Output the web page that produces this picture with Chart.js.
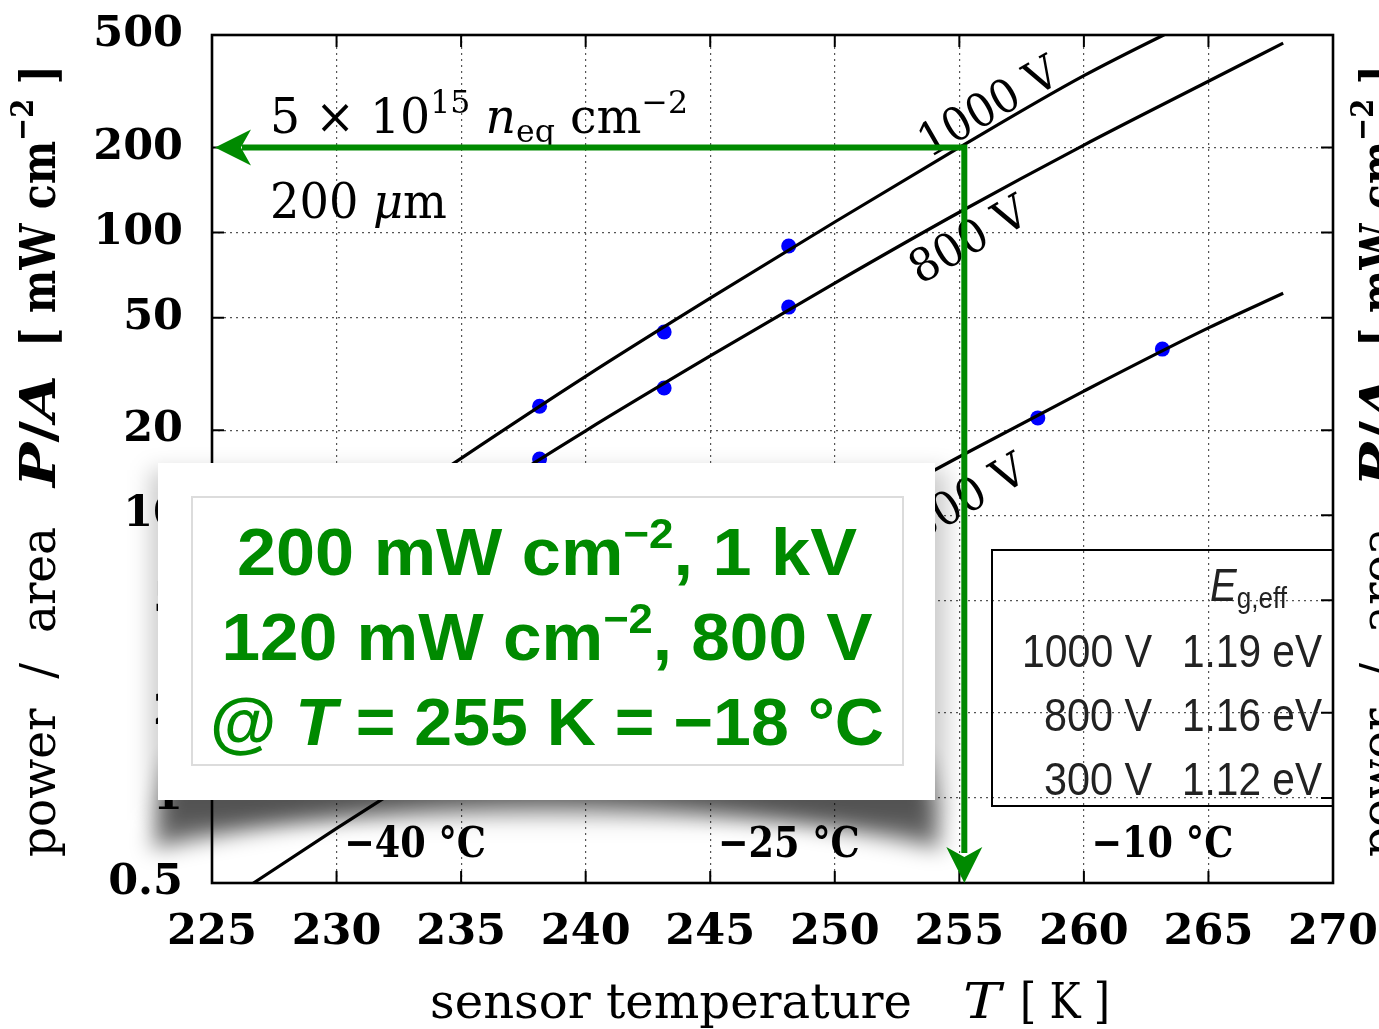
<!DOCTYPE html>
<html>
<head>
<meta charset="utf-8">
<script src="https://cdn.jsdelivr.net/npm/chart.js@4.4.1/dist/chart.umd.min.js"></script>
<style>
  body { margin: 0; background: #fff; }
  #wrap { width: 1379px; height: 1029px; }
</style>
</head>
<body>
<div id="wrap"><canvas id="c"></canvas></div>
<script>
// fitted curves (T in K, P/A in mW cm^-2)
var temps   = [225, 230, 235, 240, 245, 250, 255, 260, 265, 268];
var fit1000 = [3.9, 8.0, 15.9, 31.0, 58.6, 109, 200, 359, 600, 820];
var fit800  = [2.7, 5.4, 10.5, 19.9, 36.6, 66.3, 118, 204, 343, 468];
var fit300  = [0.40, 0.78, 1.49, 2.81, 5.14, 9.23, 16.1, 27.5, 46, 61];

// measured points
var measT    = [238.15, 243.15, 248.15];
var meas1000 = [24.3, 44.5, 89.6];
var meas800  = [15.8, 28.2, 54.5];
var measT300 = [258.15, 263.15];
var meas300  = [22.1, 38.7];

var xTicks = [225, 230, 235, 240, 245, 250, 255, 260, 265, 270];
var yTicks = [0.5, 1, 2, 5, 10, 20, 50, 100, 200, 500];
var celsius = [-40, -25, -10];

// operating point marked by the green arrows
var opT = 255.2;
var opP = 200;

var legendVolts = ['1000 V', '800 V', '300 V'];
var legendGap   = ['1.19 eV', '1.16 eV', '1.12 eV'];

var GREEN = '#008a00';
var SERIF = '"DejaVu Serif", serif';
var SANS = '"Liberation Sans", Arial, sans-serif';

function pts(xs, ys) {
  return xs.map(function (x, i) { return { x: x, y: ys[i] }; });
}

// draw a run of text pieces, optionally squeezed/stretched to a given width
function rich(ctx, parts, x, y, width, align) {
  var total = 0;
  parts.forEach(function (p) {
    ctx.font = p.f;
    p.w = ctx.measureText(p.t).width;
    total += p.w;
  });
  var sx = width ? width / total : 1;
  ctx.save();
  ctx.translate(x, y);
  ctx.scale(sx, 1);
  var cx = 0;
  if (align === 'center') cx = -total / 2;
  if (align === 'right') cx = -total;
  ctx.textAlign = 'left';
  ctx.textBaseline = 'alphabetic';
  parts.forEach(function (p) {
    ctx.font = p.f;
    ctx.fillText(p.t, cx, p.dy || 0);
    cx += p.w;
  });
  ctx.restore();
}

function yTitle(ctx, xb) {
  var n = '48px ' + SERIF, b = 'bold 48px ' + SERIF, bi = 'italic bold 48px ' + SERIF;
  var groups = [
    { y: 857, len: 330, parts: [{ t: 'power  /  area', f: n }] },
    { y: 487, len: 112, parts: [{ t: 'P', f: bi }, { t: '/', f: b }, { t: 'A', f: bi }] },
    { y: 347, len: 282, parts: [{ t: '[ mW cm', f: b }, { t: '\u22122', f: 'bold 32px ' + SERIF, dy: -22 }, { t: ' ]', f: b }] }
  ];
  groups.forEach(function (g) {
    ctx.save();
    ctx.translate(xb, g.y);
    ctx.rotate(-Math.PI / 2);
    rich(ctx, g.parts, 0, 0, g.len, 'left');
    ctx.restore();
  });
}

function arrowHead(ctx, tx, ty, dx, dy, len, half) {
  // dx,dy: unit direction the arrow points to
  var bx = tx - dx * len, by = ty - dy * len;
  var nx = -dy, ny = dx;
  ctx.beginPath();
  ctx.moveTo(tx, ty);
  ctx.lineTo(bx + nx * half, by + ny * half);
  ctx.lineTo(tx - dx * len * 0.72, ty - dy * len * 0.72);
  ctx.lineTo(bx - nx * half, by - ny * half);
  ctx.closePath();
  ctx.fill();
}

// keep the plot box where the reference has it
function noPad(s) {
  s.paddingTop = 0; s.paddingBottom = 0; s.paddingLeft = 0; s.paddingRight = 0;
}

var overlay = {
  id: 'overlay',
  afterDatasetsDraw: function (chart) {
    var ctx = chart.ctx, a = chart.chartArea;
    var xs = chart.scales.x, ys = chart.scales.y;
    ctx.save();

    // frame + inward ticks
    ctx.strokeStyle = '#000';
    ctx.lineWidth = 2.6;
    ctx.strokeRect(a.left, a.top, a.right - a.left, a.bottom - a.top);
    ctx.lineWidth = 2;
    ctx.beginPath();
    xTicks.forEach(function (v) {
      var px = xs.getPixelForValue(v);
      ctx.moveTo(px, a.bottom); ctx.lineTo(px, a.bottom - 12);
      ctx.moveTo(px, a.top); ctx.lineTo(px, a.top + 12);
    });
    yTicks.forEach(function (v) {
      var py = ys.getPixelForValue(v);
      ctx.moveTo(a.left, py); ctx.lineTo(a.left + 12, py);
      ctx.moveTo(a.right, py); ctx.lineTo(a.right - 12, py);
    });
    ctx.stroke();

    // celsius labels
    ctx.fillStyle = '#000';
    celsius.forEach(function (c) {
      var px = xs.getPixelForValue(c + 273.15);
      rich(ctx, [{ t: '\u2212' + Math.abs(c) + ' \u00b0C', f: 'bold 43px ' + SERIF }], px, 857, 142, 'center');
    });

    // fluence / thickness annotation
    var n = '48px ' + SERIF, it = 'italic 48px ' + SERIF, sm = '32px ' + SERIF;
    rich(ctx, [
      { t: '5 \u00d7 10', f: n }, { t: '15', f: sm, dy: -20 }, { t: ' ', f: n },
      { t: 'n', f: it }, { t: 'eq', f: sm, dy: 9 }, { t: ' cm', f: n }, { t: '\u22122', f: sm, dy: -20 }
    ], 270, 133, 418, 'left');
    rich(ctx, [{ t: '200 ', f: n }, { t: '\u03bc', f: it }, { t: 'm', f: n }], 270, 218, 177, 'left');

    // voltage labels along the curves
    [['1000 V', 988, 106, 154], ['800 V', 968, 239, 129], ['300 V', 966, 497, 129]].forEach(function (l) {
      ctx.save();
      ctx.translate(l[1], l[2]);
      ctx.rotate(-30 * Math.PI / 180);
      rich(ctx, [{ t: l[0], f: '46px ' + SERIF }], 0, 16, l[3], 'center');
      ctx.restore();
    });

    // legend box (transparent)
    var lx = a.right - 341, ly = 550;
    ctx.lineWidth = 2;
    ctx.strokeStyle = '#000';
    ctx.strokeRect(lx, ly, a.right - lx, 256);
    ctx.fillStyle = '#222';
    rich(ctx, [{ t: 'E', f: 'italic 46px ' + SANS }, { t: 'g,eff', f: '30px ' + SANS, dy: 7 }], 1287, 601, 77, 'right');
    legendVolts.forEach(function (v, i) {
      var by = 667 + i * 64;
      rich(ctx, [{ t: v, f: '46px ' + SANS }], 1152, by, v.length > 5 ? 130 : 108, 'right');
      rich(ctx, [{ t: legendGap[i], f: '46px ' + SANS }], 1322, by, 140, 'right');
    });

    // green arrows
    var ax = xs.getPixelForValue(opT), ay = ys.getPixelForValue(opP);
    ctx.strokeStyle = GREEN;
    ctx.fillStyle = GREEN;
    ctx.lineWidth = 6;
    ctx.lineCap = 'butt';
    ctx.beginPath();
    ctx.moveTo(a.left + 30, ay);
    ctx.lineTo(ax, ay);
    ctx.lineTo(ax, a.bottom - 30);
    ctx.stroke();
    arrowHead(ctx, a.left + 3, ay, -1, 0, 36, 18);
    arrowHead(ctx, ax, a.bottom, 0, 1, 36, 18);

    ctx.restore();
  },
  afterDraw: function (chart) {
    var ctx = chart.ctx;
    ctx.save();
    // shadow of the callout card: heavy at the two lower corners, light in the middle
    ctx.filter = 'blur(11px)';
    ctx.fillStyle = 'rgba(0,0,0,0.6)';
    ctx.beginPath();
    ctx.moveTo(170, 760);
    ctx.lineTo(925, 760);
    ctx.lineTo(942, 848);
    ctx.quadraticCurveTo(547, 762, 152, 848);
    ctx.closePath();
    ctx.fill();
    ctx.fillStyle = 'rgba(0,0,0,0.2)';
    ctx.fillRect(150, 470, 797, 350);
    ctx.filter = 'none';

    ctx.fillStyle = '#fff';
    ctx.fillRect(158, 463, 777, 337);
    ctx.strokeStyle = '#dcdcdc';
    ctx.lineWidth = 2;
    ctx.strokeRect(192, 497, 711, 268);

    ctx.fillStyle = GREEN;
    var B = 'bold 67px ' + SANS, S = 'bold 42px ' + SANS, BI = 'italic bold 67px ' + SANS;
    rich(ctx, [{ t: '200 mW cm', f: B }, { t: '\u22122', f: S, dy: -27 }, { t: ', 1 kV', f: B }], 547, 575, 620, 'center');
    rich(ctx, [{ t: '120 mW cm', f: B }, { t: '\u22122', f: S, dy: -27 }, { t: ', 800 V', f: B }], 547, 660, 651, 'center');
    rich(ctx, [{ t: '@ ', f: B }, { t: 'T', f: BI }, { t: ' = 255 K = \u221218 \u00b0C', f: B }], 547, 745, 674, 'center');

    // axis titles
    ctx.fillStyle = '#000';
    yTitle(ctx, 55);
    yTitle(ctx, 1395);
    var n = '48px ' + SERIF;
    rich(ctx, [{ t: 'sensor temperature', f: n }], 430, 1018, 482, 'left');
    rich(ctx, [{ t: 'T', f: 'italic 48px ' + SERIF }], 963, 1018, 38, 'left');
    rich(ctx, [{ t: '[ K ]', f: n }], 1020, 1018, 90, 'left');
    ctx.restore();
  }
};

var fitStyle = { borderColor: '#000', borderWidth: 3.2, pointRadius: 0, cubicInterpolationMode: 'monotone', fill: false };
var dotStyle = { type: 'scatter', pointRadius: 7.5, pointBackgroundColor: '#0000ff', pointBorderWidth: 0, showLine: false };

new Chart(document.getElementById('c'), {
  type: 'line',
  data: {
    datasets: [
      Object.assign({ label: '1000 V', data: pts(temps, fit1000) }, fitStyle),
      Object.assign({ label: '800 V', data: pts(temps, fit800) }, fitStyle),
      Object.assign({ label: '300 V', data: pts(temps, fit300) }, fitStyle),
      Object.assign({ label: '1000 V data', data: pts(measT, meas1000) }, dotStyle),
      Object.assign({ label: '800 V data', data: pts(measT, meas800) }, dotStyle),
      Object.assign({ label: '300 V data', data: pts(measT300, meas300) }, dotStyle)
    ]
  },
  options: {
    responsive: true,
    maintainAspectRatio: false,
    animation: false,
    layout: { padding: { top: 35, right: 46, left: 0, bottom: 0 } },
    plugins: { legend: { display: false }, tooltip: { enabled: false } },
    scales: {
      x: {
        type: 'linear', min: 225, max: 270,
        afterBuildTicks: function (s) { s.ticks = xTicks.map(function (v) { return { value: v }; }); },
        afterFit: function (s) { s.height = 146; noPad(s); },
        grid: { color: '#555', lineWidth: 1.2, drawTicks: false },
        border: { display: false, dash: [2, 4] },
        ticks: { color: '#000', padding: 24, maxRotation: 0, font: { family: 'DejaVu Serif', weight: 'bold', size: 43 } }
      },
      y: {
        type: 'logarithmic', min: 0.5, max: 500,
        afterBuildTicks: function (s) { s.ticks = yTicks.map(function (v) { return { value: v }; }); },
        afterFit: function (s) { s.width = 212; noPad(s); },
        grid: { color: '#555', lineWidth: 1.2, drawTicks: false },
        border: { display: false, dash: [2, 4] },
        ticks: {
          color: '#000', padding: 29, font: { family: 'DejaVu Serif', weight: 'bold', size: 43 },
          callback: function (v) { return String(v); }
        }
      }
    }
  },
  plugins: [overlay]
});
</script>
</body>
</html>
